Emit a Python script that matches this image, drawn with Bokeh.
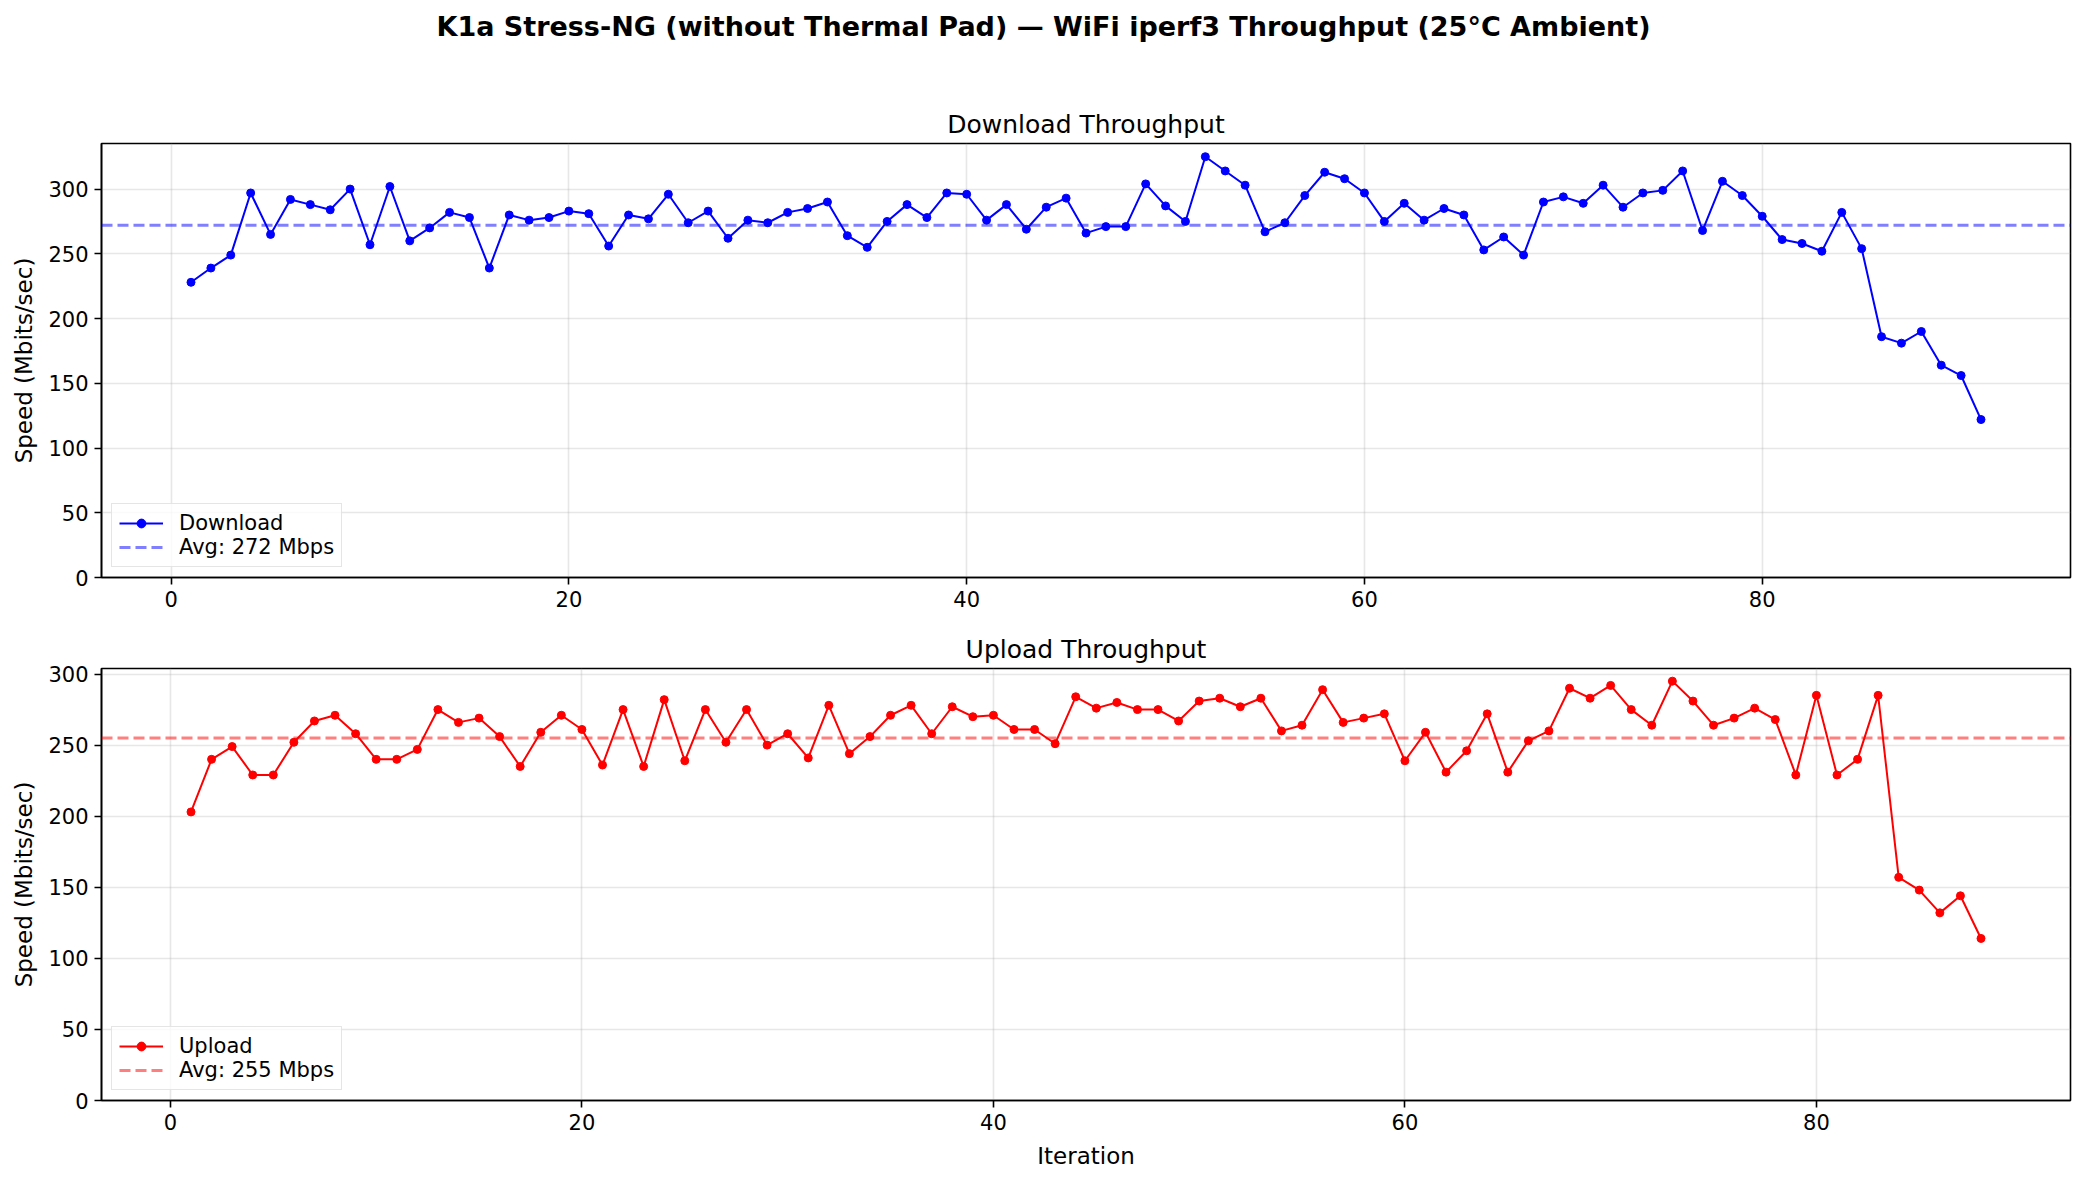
from bokeh.plotting import figure
from bokeh.models import Span, Legend, LegendItem, FixedTicker, Range1d, Div, ColumnDataSource
from bokeh.layouts import column
from bokeh.embed import file_html
from bokeh.resources import INLINE

suptitle = "K1a Stress-NG (without Thermal Pad) \u2014 WiFi iperf3 Throughput (25\u00b0C Ambient)"

dl_iter = list(range(1, 92))
download = [228, 239, 249, 297, 265, 292, 288, 284, 300, 257, 302, 260, 270, 282, 278, 239,
            280, 276, 278, 283, 281, 256,
            280, 277, 296, 274, 283, 262, 276, 274, 282, 285, 290, 264, 255, 275, 288, 278,
            297, 296, 276, 288, 269, 286, 293, 266,
            271, 271, 304, 287, 275, 325, 314, 303, 267, 274, 295, 313, 308, 297, 275, 289,
            276, 285, 280, 253, 263, 249, 290, 294,
            289, 303, 286, 297, 299, 314, 268, 306, 295, 279, 261, 258, 252, 282, 254, 186,
            181, 190, 164, 156, 122]
dl_avg = 272

ul_iter = list(range(1, 89))
upload = [203, 240, 249, 229, 229, 252, 267, 271, 258, 240, 240, 247, 275, 266, 269, 256,
          235, 259, 271, 261, 236, 275,
          235, 282, 239, 275, 252, 275, 250, 258, 241, 278, 244, 256, 271, 278, 258, 277,
          270, 271, 261, 261, 251, 284, 276,
          280, 275, 275, 267, 281, 283, 277, 283, 260, 264, 289, 266, 269, 272, 239, 259,
          231, 246, 272, 231, 253, 260, 290,
          283, 292, 275, 264, 295, 281, 264, 269, 276, 268, 229, 285, 229, 240, 285, 157,
          148, 132, 144, 114]
ul_avg = 255

x_ticks = [0, 20, 40, 60, 80]
y_ticks = [0, 50, 100, 150, 200, 250, 300]

FONT = "DejaVu Sans"
FIG_W = 2077


def make_panel(title, xs, ys, avg, color, avg_color, label, xr, yr, height,
               top, bottom, xlabel=None):
    p = figure(width=FIG_W, height=height, output_backend="svg", toolbar_location=None,
               x_range=Range1d(*xr), y_range=Range1d(*yr),
               min_border_left=101, min_border_right=7,
               min_border_top=top, min_border_bottom=bottom)
    p.title.text = title
    p.title.align = "center"
    p.title.text_font = FONT
    p.title.text_font_size = "25px"
    p.title.text_font_style = "normal"
    p.title.text_color = "black"
    p.title.standoff = 10

    p.outline_line_color = "black"
    p.outline_line_width = 1.6
    p.background_fill_color = "white"
    p.border_fill_color = "white"

    for ax in (p.xaxis[0], p.yaxis[0]):
        ax.major_label_text_font = FONT
        ax.major_label_text_font_size = "21px"
        ax.major_label_text_color = "black"
        ax.axis_label_text_font = FONT
        ax.axis_label_text_font_size = "23px"
        ax.axis_label_text_font_style = "normal"
        ax.axis_label_text_color = "black"
        ax.axis_line_color = "black"
        ax.axis_line_width = 1.6
        ax.major_tick_line_color = "black"
        ax.major_tick_line_width = 1.6
        ax.major_tick_out = 7
        ax.major_tick_in = 0
        ax.minor_tick_line_color = None
        ax.major_label_standoff = 6
    p.xaxis.ticker = FixedTicker(ticks=x_ticks)
    p.yaxis.ticker = FixedTicker(ticks=y_ticks)
    p.yaxis.axis_label = "Speed (Mbits/sec)"
    p.yaxis.axis_label_standoff = 8
    if xlabel:
        p.xaxis.axis_label = xlabel
        p.xaxis.axis_label_standoff = 10

    p.grid.grid_line_color = "#b0b0b0"
    p.grid.grid_line_alpha = 0.3
    p.grid.grid_line_width = 1.6

    src = ColumnDataSource(dict(x=xs, y=ys))
    ln = p.line("x", "y", source=src, line_color=color, line_width=2)
    sc = p.scatter("x", "y", source=src, size=8, fill_color=color, line_color=color)

    span = Span(location=avg, dimension="width", line_color=avg_color, line_alpha=0.5,
                line_width=3, line_dash="11 5")
    p.add_layout(span)
    dummy = p.line(x=[xs[0], xs[0]], y=[float("nan"), float("nan")], line_color=avg_color,
                   line_alpha=0.5, line_width=3, line_dash="11 5")

    legend = Legend(items=[LegendItem(label=label, renderers=[ln, sc]),
                           LegendItem(label=f"Avg: {avg} Mbps", renderers=[dummy])],
                    location="bottom_left")
    legend.label_text_font = FONT
    legend.label_text_font_size = "21px"
    legend.label_text_color = "black"
    legend.glyph_width = 44
    legend.glyph_height = 22
    legend.label_height = 22
    legend.label_standoff = 16
    legend.padding = 7
    legend.spacing = 0
    legend.margin = 10
    legend.border_line_color = "#cccccc"
    legend.border_line_width = 1.6
    legend.background_fill_alpha = 0.8
    p.add_layout(legend, "center")
    return p


p1 = make_panel("Download Throughput", dl_iter, download, dl_avg, "blue", "blue",
                "Download", (-3.5, 95.5), (0, 335.2), 556, 76, 46)
p2 = make_panel("Upload Throughput", ul_iter, upload, ul_avg, "red", "red",
                "Upload", (-3.35, 92.35), (0, 303.9), 551, 45, 74, xlabel="Iteration")

head = Div(text=f'<div style="width:{FIG_W}px;text-align:center;font-family:\'DejaVu Sans\';'
                f'font-weight:bold;font-size:27px;padding-top:3px;color:black;">{suptitle}</div>',
           width=FIG_W, height=57)

layout = column(head, p1, p2, spacing=0)

open("out.html", "w").write(file_html(layout, INLINE))
